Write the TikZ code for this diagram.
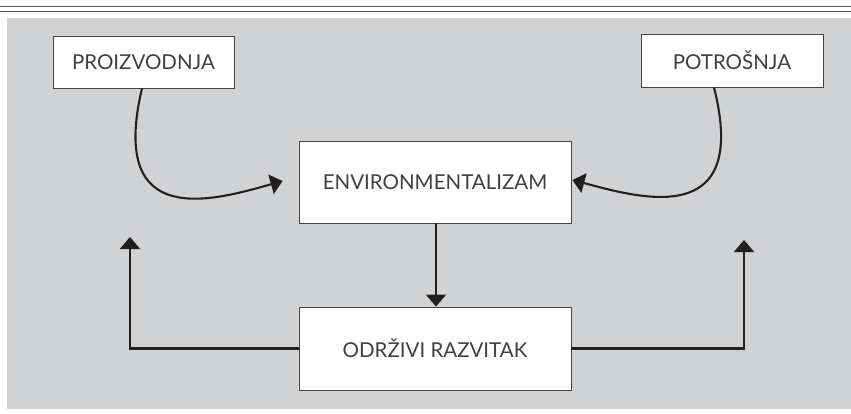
\documentclass[tikz,border=0pt]{standalone}
\usepackage{fontspec}
\setmainfont{Lato}
\usepackage{tikz}
\usetikzlibrary{
    arrows.meta,
    positioning
}

\definecolor{panelgray}{HTML}{D1D2D4}
\definecolor{rulegray}{HTML}{555555}
\definecolor{boxline}{HTML}{444444}
\definecolor{arrowink}{HTML}{231F20}
\definecolor{labelink}{HTML}{404040}

\begin{document}
\begin{tikzpicture}[
    x=1pt,
    y=-1pt,
    every node/.style={
        font=\fontsize{20.5pt}{24pt}\selectfont,
        text=labelink
    },
    conceptbox/.style={
        draw=boxline,
        line width=0.9pt,
        fill=white,
        inner sep=0pt
    },
    flow/.style={
        line width=2.1pt,
        draw=arrowink,
        -{Triangle[width=20pt,length=12pt]}
    }
]

    \useasboundingbox (0,0) rectangle (851,413);

    % -------------------------------------------------------
    % Page rules and panel
    % -------------------------------------------------------
    \draw[line width=1.6pt, rulegray] (0,6.5) -- (851,6.5);
    \draw[line width=1pt, rulegray] (0,11.5) -- (851,11.5);

    \fill[panelgray] (7,18) rectangle (851,409);

    % -------------------------------------------------------
    % Boxes
    % -------------------------------------------------------
    \node[
        conceptbox,
        minimum width=181pt,
        minimum height=52pt
    ] (prod) at (143.5,62)
        {PROIZVODNJA};

    \node[
        conceptbox,
        minimum width=182pt,
        minimum height=53pt
    ] (cons) at (732,60.5)
        {POTROŠNJA};

    \node[
        conceptbox,
        minimum width=272pt,
        minimum height=82pt
    ] (env) at (435,182)
        {ENVIRONMENTALIZAM};

    \node[
        conceptbox,
        minimum width=272pt,
        minimum height=83pt
    ] (sust) at (435,348.5)
        {ODRŽIVI RAZVITAK};

    % -------------------------------------------------------
    % Curved inputs into environmentalism
    % -------------------------------------------------------
    \draw[flow]
        ([xshift=-1.5pt]prod.south)
        .. controls (108,232) and (215,200) ..
        ([xshift=-16pt,yshift=1pt]env.west);

    \draw[flow]
        ([xshift=-18pt]cons.south)
        .. controls (750,230) and (640,198) ..
        ([xshift=1pt,yshift=2pt]env.east);

    % -------------------------------------------------------
    % Down to sustainable development, then back up
    % -------------------------------------------------------
    \draw[flow] ([xshift=1pt]env.south) -- ([xshift=1pt]sust.north);

    \coordinate (lefttip) at (130,237);
    \coordinate (righttip) at (744,240);

    \draw[flow] (sust.west) -| (lefttip);
    \draw[flow] (sust.east) -| (righttip);

\end{tikzpicture}
\end{document}
